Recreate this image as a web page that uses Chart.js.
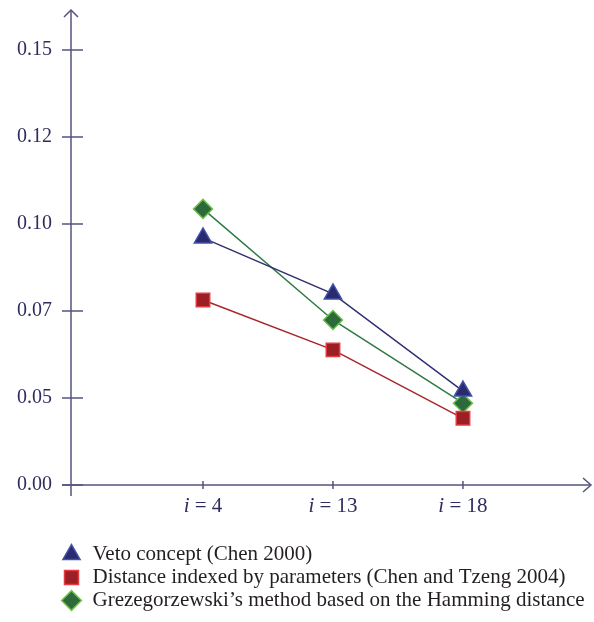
<!DOCTYPE html>
<html>
<head>
<meta charset="utf-8">
<script src="https://cdn.jsdelivr.net/npm/chart.js@4"></script>
<style>
  html, body { margin: 0; padding: 0; background: #fff; }
  #wrap { width: 594px; height: 622px; }
</style>
</head>
<body>
<div id="wrap"><canvas id="grafico"></canvas></div>
<script>
// datos
const categorias = ["4", "13", "18"];
const posiciones = [1, 2, 3];
const vetoConcept = [0.0852, 0.0659, 0.0324];
const distanceIndexed = [0.0638, 0.0466, 0.0230];
const grezegorzewski = [0.0952, 0.0569, 0.0282];
const valoresTicksY = [0, 0.03, 0.06, 0.09, 0.12, 0.15];
const etiquetasY = ["0.00", "0.05", "0.07", "0.10", "0.12", "0.15"];
const nombresSeries = [
    "Veto concept (Chen 2000)",
    "Distance indexed by parameters (Chen and Tzeng 2004)",
    "Grezegorzewski\u2019s method based on the Hamming distance"
];

const colorEje = "#55537f";
const colorTexto = "#2e2d5e";
const fuente = "'Liberation Serif', 'DejaVu Serif', serif";

function puntos(valores) {
    return valores.map((v, i) => ({ x: posiciones[i], y: v }));
}

/*******************************************************************************/
// Ejes con flechas y etiquetas i = n

const ejesPlugin = {
    id: "ejes",
    afterLayout(chart) {
        // mover la leyenda hacia la derecha como en la figura
        chart.legend.left += 42;
        chart.legend.right += 42;
    },
    beforeDatasetsDraw(chart) {
        const ctx = chart.ctx;
        const area = chart.chartArea;
        const sx = chart.scales.x;
        const sy = chart.scales.y;
        const x0 = sx.getPixelForValue(sx.min);
        const y0 = sy.getPixelForValue(0);

        ctx.save();
        ctx.strokeStyle = colorEje;
        ctx.lineWidth = 1.5;

        // eje y
        ctx.beginPath();
        ctx.moveTo(x0, y0 + 11);
        ctx.lineTo(x0, area.top - 2);
        ctx.stroke();
        ctx.beginPath();
        ctx.moveTo(x0 - 7, area.top + 5);
        ctx.lineTo(x0, area.top - 2);
        ctx.lineTo(x0 + 7, area.top + 5);
        ctx.stroke();

        // eje x
        ctx.beginPath();
        ctx.moveTo(x0 - 9, y0);
        ctx.lineTo(area.right, y0);
        ctx.stroke();
        ctx.beginPath();
        ctx.moveTo(area.right - 8, y0 - 7);
        ctx.lineTo(area.right, y0);
        ctx.lineTo(area.right - 8, y0 + 7);
        ctx.stroke();

        // marcas del eje y
        valoresTicksY.forEach((v) => {
            const py = sy.getPixelForValue(v);
            ctx.beginPath();
            ctx.moveTo(x0 - 9, py);
            ctx.lineTo(x0 + 12, py);
            ctx.stroke();
        });

        // marcas y etiquetas del eje x
        ctx.fillStyle = colorTexto;
        ctx.textBaseline = "alphabetic";
        posiciones.forEach((p, i) => {
            const px = sx.getPixelForValue(p);
            ctx.beginPath();
            ctx.moveTo(px, y0 - 4);
            ctx.lineTo(px, y0 + 4);
            ctx.stroke();

            ctx.font = "italic 21px " + fuente;
            const parteI = "i";
            const resto = " = " + categorias[i];
            const anchoI = ctx.measureText(parteI).width;
            ctx.font = "21px " + fuente;
            const anchoResto = ctx.measureText(resto).width;
            const inicio = px - (anchoI + anchoResto) / 2;
            ctx.font = "italic 21px " + fuente;
            ctx.textAlign = "left";
            ctx.fillText(parteI, inicio, y0 + 27);
            ctx.font = "21px " + fuente;
            ctx.fillText(resto, inicio + anchoI, y0 + 27);
        });
        ctx.restore();
    }
};

/*******************************************************************************/
// Grafico

const ctx = document.getElementById("grafico").getContext("2d");
new Chart(ctx, {
    type: "line",
    data: {
        datasets: [
            {
                label: nombresSeries[0],
                data: puntos(vetoConcept),
                borderColor: "#302f70",
                borderWidth: 1.5,
                pointStyle: "triangle",
                pointRadius: 10,
                pointBackgroundColor: "#2a2a6e",
                pointBorderColor: "#4152a8",
                pointBorderWidth: 1.5
            },
            {
                label: nombresSeries[1],
                data: puntos(distanceIndexed),
                borderColor: "#a8262b",
                borderWidth: 1.5,
                pointStyle: "rect",
                pointRadius: 9.5,
                pointBackgroundColor: "#9c1f25",
                pointBorderColor: "#e33b3f",
                pointBorderWidth: 1.5
            },
            {
                label: nombresSeries[2],
                data: puntos(grezegorzewski),
                borderColor: "#2f7a45",
                borderWidth: 1.5,
                pointStyle: "rectRot",
                pointRadius: 9.5,
                pointBackgroundColor: "#2c6a3c",
                pointBorderColor: "#6fbf4a",
                pointBorderWidth: 1.5
            }
        ]
    },
    options: {
        responsive: true,
        maintainAspectRatio: false,
        animation: false,
        layout: { autoPadding: false, padding: { top: 12, left: 17, right: 3, bottom: 1 } },
        plugins: {
            tooltip: { enabled: false },
            legend: {
                position: "bottom",
                align: "start",
                labels: {
                    usePointStyle: true,
                    boxHeight: 14,
                    padding: 2,
                    color: "#231f20",
                    font: { family: fuente, size: 21 }
                }
            }
        },
        scales: {
            x: {
                type: "linear",
                min: -0.0154,
                max: 3.985,
                grid: { display: false, drawTicks: false },
                border: { display: false },
                ticks: { display: false },
                afterFit: (escala) => { escala.height = 57; }
            },
            y: {
                min: 0,
                max: 0.1631,
                grid: { display: false, drawTicks: false },
                border: { display: false },
                afterBuildTicks: (escala) => {
                    escala.ticks = valoresTicksY.map((v) => ({ value: v }));
                },
                afterFit: (escala) => { escala.width = 54; },
                ticks: {
                    padding: 0,
                    crossAlign: "far",
                    color: colorTexto,
                    font: { family: fuente, size: 20 },
                    callback: (valor, indice) => etiquetasY[indice]
                }
            }
        }
    },
    plugins: [ejesPlugin]
});
</script>
</body>
</html>
